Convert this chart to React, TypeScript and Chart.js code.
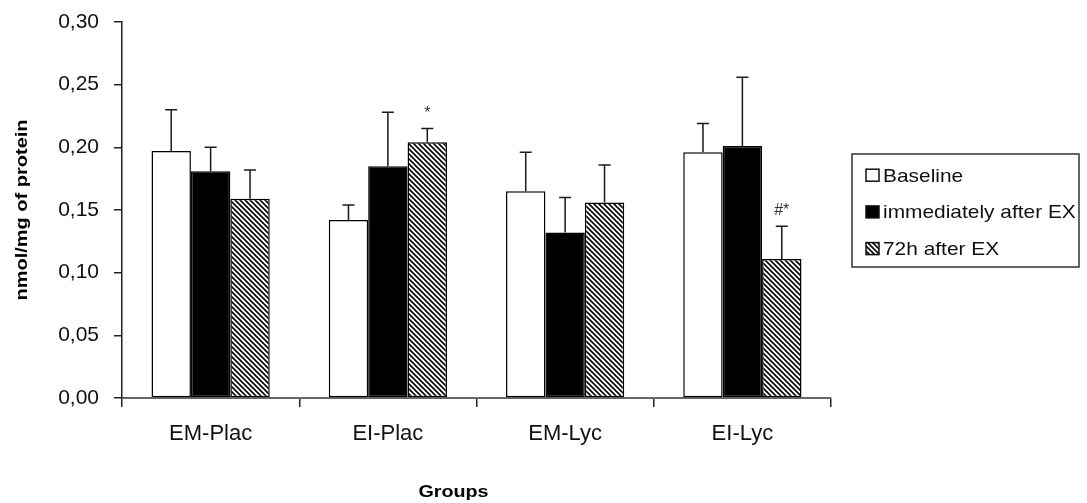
import React, { useEffect, useRef } from 'react';
import { Chart, registerables } from 'chart.js';

Chart.register(...registerables);

const categories = ['EM-Plac', 'EI-Plac', 'EM-Lyc', 'EI-Lyc'];
const seriesNames = ['Baseline', 'immediately after EX', '72h after EX'];
const baselineValues = [0.197, 0.142, 0.165, 0.196];
const baselineErrors = [0.033, 0.012, 0.031, 0.023];
const immediateValues = [0.181, 0.185, 0.132, 0.201];
const immediateErrors = [0.019, 0.043, 0.028, 0.055];
const after72hValues = [0.159, 0.204, 0.156, 0.111];
const after72hErrors = [0.023, 0.011, 0.030, 0.026];
const baselineMarks = ['', '', '', ''];
const immediateMarks = ['', '', '', ''];
const after72hMarks = ['', '*', '', '#*'];
const yTicks = [0, 0.05, 0.1, 0.15, 0.2, 0.25, 0.3];
const yAxisTitle = 'nmol/mg of protein';
const xAxisTitle = 'Groups';

const FONT = 'Arial, "Liberation Sans", sans-serif';

function makeHatch(ctx: CanvasRenderingContext2D): CanvasPattern {
  const c = document.createElement('canvas');
  c.width = 5;
  c.height = 5;
  const g = c.getContext('2d')!;
  g.fillStyle = '#ffffff';
  g.fillRect(0, 0, 5, 5);
  g.strokeStyle = '#000000';
  g.lineWidth = 1.6;
  for (const k of [-5, 0, 5]) {
    g.beginPath();
    g.moveTo(-1, k - 1);
    g.lineTo(6, k + 6);
    g.stroke();
  }
  return ctx.createPattern(c, 'repeat')!;
}

function stretchedText(
  ctx: CanvasRenderingContext2D,
  text: string,
  x: number,
  y: number,
  font: string,
  sx: number,
  rotation: number,
  align: CanvasTextAlign,
) {
  ctx.save();
  ctx.translate(x, y);
  ctx.rotate(rotation);
  ctx.scale(sx, 1);
  ctx.font = font;
  ctx.textAlign = align;
  ctx.textBaseline = 'alphabetic';
  ctx.fillText(text, 0, 0);
  ctx.restore();
}

export default function App() {
  const ref = useRef<HTMLCanvasElement | null>(null);

  useEffect(() => {
    document.body.style.margin = '0';
    const canvas = ref.current!;
    const ctx = canvas.getContext('2d')!;
    const hatch = makeHatch(ctx);
    const errorSets = [baselineErrors, immediateErrors, after72hErrors];
    const markSets = [baselineMarks, immediateMarks, after72hMarks];
    const fills: (string | CanvasPattern)[] = ['#ffffff', '#000000', hatch];

    const overlay = {
      id: 'overlay',
      afterDatasetsDraw(chart: any) {
        const c: CanvasRenderingContext2D = chart.ctx;
        const ys = chart.scales.y;
        chart.data.datasets.forEach((ds: any, i: number) => {
          const meta = chart.getDatasetMeta(i);
          meta.data.forEach((el: any, j: number) => {
            const v = ds.data[j];
            const topPx = ys.getPixelForValue(v + errorSets[i][j]);
            c.save();
            c.strokeStyle = '#1a1a1a';
            c.lineWidth = 1.5;
            c.beginPath();
            c.moveTo(el.x, el.y);
            c.lineTo(el.x, topPx);
            c.moveTo(el.x - 6, topPx);
            c.lineTo(el.x + 6, topPx);
            c.stroke();
            const mark = markSets[i][j];
            if (mark) {
              c.fillStyle = '#333333';
              c.font = `16px ${FONT}`;
              c.textAlign = 'center';
              c.textBaseline = 'alphabetic';
              c.fillText(mark, el.x, topPx - 11);
            }
            c.restore();
          });
        });
      },
      afterDraw(chart: any) {
        const c: CanvasRenderingContext2D = chart.ctx;
        const area = chart.chartArea;
        c.save();
        c.fillStyle = '#000000';
        stretchedText(c, yAxisTitle, 27, (area.top + area.bottom) / 2, `bold 16px ${FONT}`, 1.25, -Math.PI / 2, 'center');
        stretchedText(c, xAxisTitle, (area.left + area.right) / 2 - 23, 497, `bold 17px ${FONT}`, 1.16, 0, 'center');
        c.restore();
        const lx = 852;
        const ly = 154;
        const lw = 227;
        const lh = 113;
        c.save();
        c.fillStyle = '#ffffff';
        c.fillRect(lx, ly, lw, lh);
        c.strokeStyle = '#333333';
        c.lineWidth = 1.5;
        c.strokeRect(lx, ly, lw, lh);
        seriesNames.forEach((name, i) => {
          const baseY = 181.7 + i * 36.7;
          const my = baseY - 12.5;
          c.fillStyle = fills[i] as any;
          c.fillRect(866, my, 13, 12);
          c.strokeStyle = '#111111';
          c.lineWidth = 1.5;
          c.strokeRect(866, my, 13, 12);
          c.fillStyle = '#111111';
          stretchedText(c, name, 883, baseY, `19px ${FONT}`, 1.1, 0, 'left');
        });
        c.restore();
      },
    };

    const chart = new Chart(canvas, {
      type: 'bar',
      data: {
        labels: categories,
        datasets: [
          { label: seriesNames[0], data: baselineValues, backgroundColor: fills[0] as any },
          { label: seriesNames[1], data: immediateValues, backgroundColor: fills[1] as any },
          { label: seriesNames[2], data: after72hValues, backgroundColor: fills[2] as any },
        ].map((d) => ({
          ...d,
          borderColor: '#000000',
          borderWidth: 1.5,
          borderSkipped: false,
          categoryPercentage: 0.667,
          barPercentage: 1,
        })),
      },
      options: {
        responsive: false,
        animation: false,
        layout: { padding: { top: 22, right: 256, left: 0, bottom: 0 } },
        plugins: {
          legend: { display: false },
          tooltip: { enabled: false },
          title: { display: false },
        },
        scales: {
          x: {
            grid: {
              display: true,
              offset: true,
              drawOnChartArea: false,
              drawTicks: true,
              tickLength: 9,
              color: '#222222',
              lineWidth: 1.5,
            },
            border: { display: true, color: '#666666', width: 2 },
            ticks: {
              color: '#111111',
              font: { family: FONT, size: 22 },
              padding: 14,
            },
            afterFit(s: any) {
              s.height = 105;
              s.paddingLeft = 0;
              s.paddingRight = 0;
            },
          },
          y: {
            min: 0,
            max: 0.3,
            grid: {
              display: true,
              drawOnChartArea: false,
              drawTicks: true,
              tickLength: 8,
              color: '#222222',
              lineWidth: 1.5,
            },
            border: { display: true, color: '#222222', width: 1.5 },
            ticks: {
              color: '#111111',
              font: { family: FONT, size: 21 },
              padding: 15,
              callback: (v: any) => Number(v).toFixed(2).replace('.', ','),
            },
            afterBuildTicks(s: any) {
              s.ticks = yTicks.map((v) => ({ value: v }));
            },
            afterFit(s: any) {
              s.width = 122;
              s.paddingTop = 0;
              s.paddingBottom = 0;
            },
          },
        },
      },
      plugins: [overlay],
    });
    return () => chart.destroy();
  }, []);

  return (
    <div style={{ position: 'absolute', left: 0, top: 0, width: 1087, height: 503, background: '#ffffff' }}>
      <canvas ref={ref} width={1087} height={503} style={{ display: 'block' }} />
    </div>
  );
}
